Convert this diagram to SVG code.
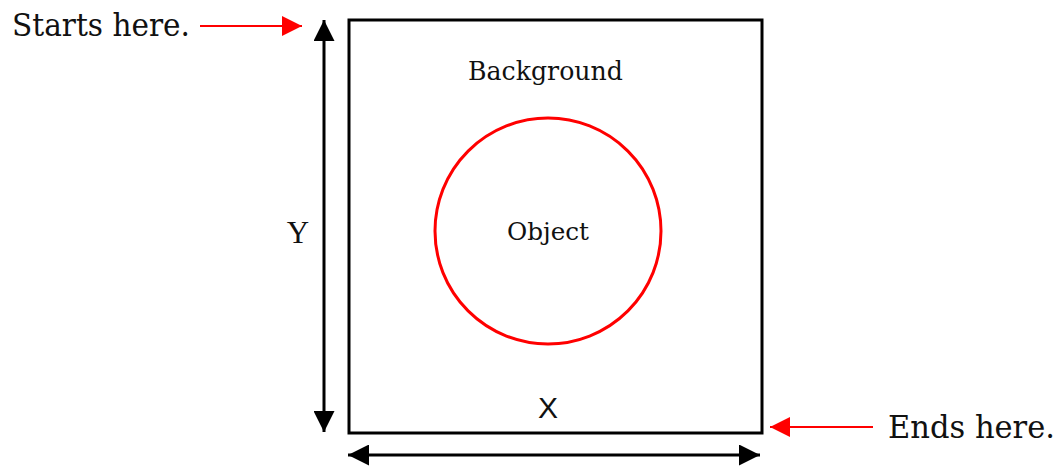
<svg xmlns="http://www.w3.org/2000/svg" width="1062" height="466" viewBox="0 0 1062 466">
<style>
.t{font-family:"DejaVu Serif","Liberation Serif",serif;fill:#111}
.blk{stroke:#000;stroke-width:3;fill:none}
.red{stroke:#f00;stroke-width:2;fill:none}
</style>
<defs>
<marker id="ab" viewBox="0 0 10 10" refX="10" refY="5" markerWidth="7" markerHeight="7" markerUnits="strokeWidth" orient="auto-start-reverse"><path d="M0,0 L10,5 L0,10 z" fill="#000"/></marker>
<marker id="ar" viewBox="0 0 10 10" refX="10" refY="5" markerWidth="10" markerHeight="10" markerUnits="strokeWidth" orient="auto"><path d="M0,0 L10,5 L0,10 z" fill="#f00"/></marker>
</defs>
<g id="background">
<rect x="349" y="20" width="413" height="413" class="blk"/>
<text class="t" x="468" y="80" font-size="26" textLength="155" lengthAdjust="spacingAndGlyphs">Background</text>
</g>
<g id="object">
<circle cx="548" cy="231" r="113" fill="none" stroke="#f00" stroke-width="3"/>
<text class="t" x="507" y="240" font-size="24" textLength="82" lengthAdjust="spacingAndGlyphs">Object</text>
</g>
<g id="labels">
<text x="298" y="243" font-size="31" text-anchor="middle" font-family="Liberation Serif, serif" fill="#111">Y</text>
<text x="548" y="418" font-size="30" text-anchor="middle" font-family="Liberation Sans, sans-serif" fill="#111">X</text>
<text class="t" x="12" y="36" font-size="31" textLength="178" lengthAdjust="spacingAndGlyphs">Starts here.</text>
<text class="t" x="888" y="438" font-size="31" textLength="167" lengthAdjust="spacingAndGlyphs">Ends here.</text>
</g>
<g id="connectors">
<line x1="324" y1="20" x2="324" y2="432" class="blk" marker-start="url(#ab)" marker-end="url(#ab)"/>
<line x1="348" y1="455" x2="760" y2="455" class="blk" marker-start="url(#ab)" marker-end="url(#ab)"/>
<line x1="200" y1="26" x2="302" y2="26" class="red" marker-end="url(#ar)"/>
<line x1="873" y1="427" x2="770" y2="427" class="red" marker-end="url(#ar)"/>
</g>
</svg>
